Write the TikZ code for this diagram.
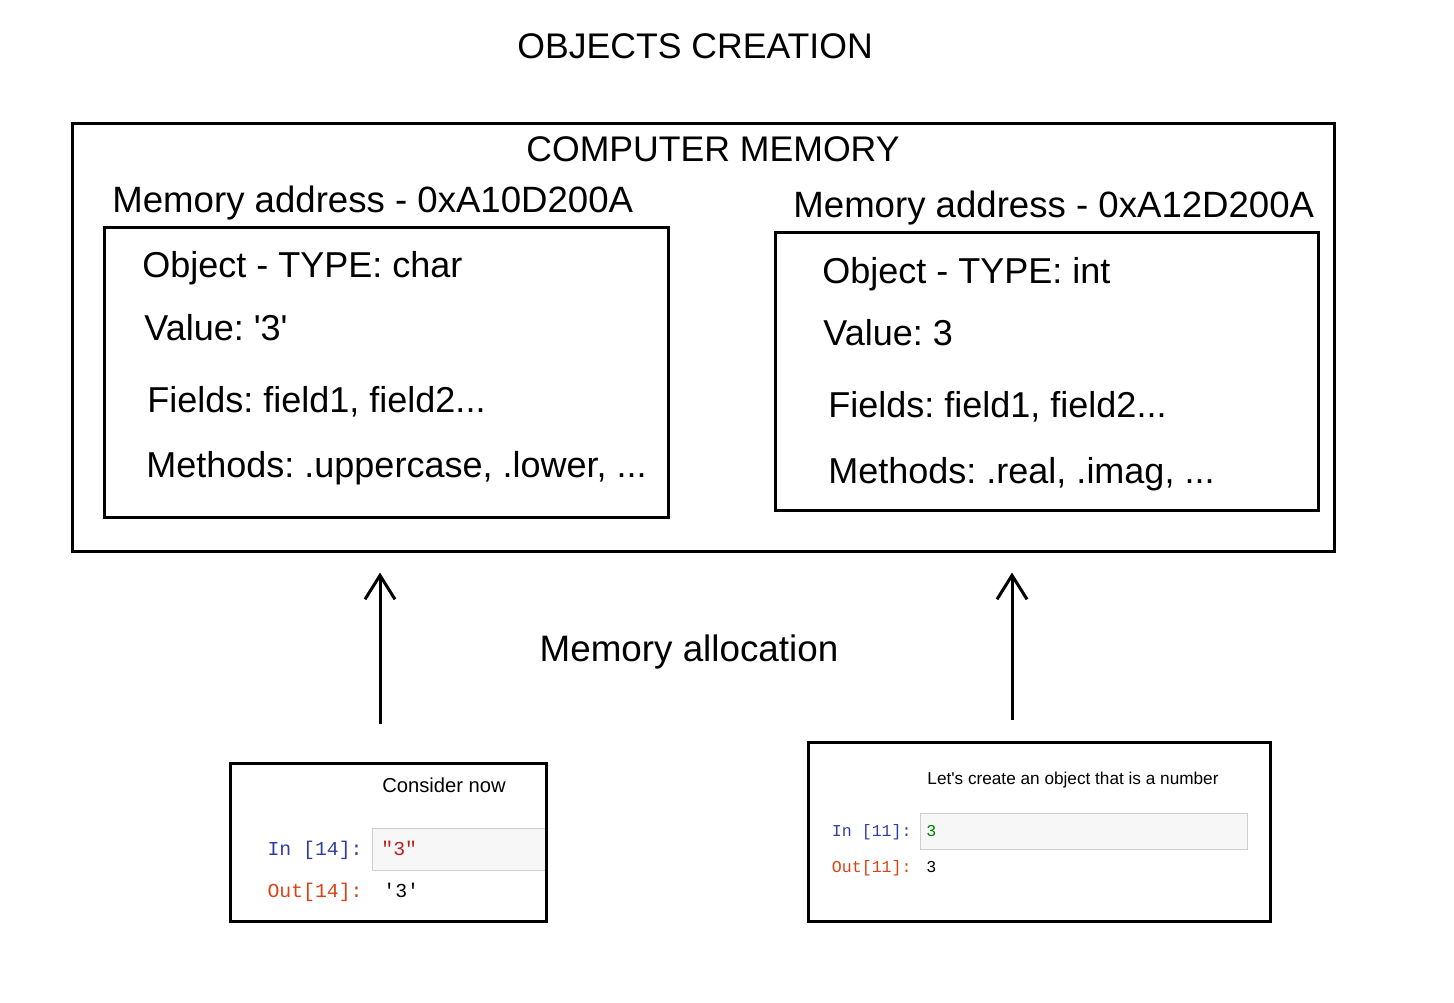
\documentclass[tikz,border=0pt]{standalone}
\usepackage{fontspec}
\setmainfont{Liberation Sans}
\setmonofont{Liberation Mono}
\usetikzlibrary{arrows.meta}
\definecolor{promptin}{HTML}{303F9F}
\definecolor{promptout}{HTML}{D84315}
\definecolor{strred}{HTML}{BA2121}
\definecolor{numgreen}{HTML}{008000}
\definecolor{cellgray}{HTML}{F7F7F7}
\definecolor{cellline}{HTML}{CFCFCF}
\frenchspacing

\begin{document}
\begin{tikzpicture}[x=0.5pt, y=-0.5pt,
		big/.style={font=\fontsize{17.8}{21}\selectfont, inner sep=0pt},
		line/.style={font=\fontsize{18}{21}\selectfont, inner sep=0pt, anchor=base west},
		address/.style={line, font=\fontsize{18.3}{21}\selectfont},
		frame/.style={draw, line width=1.5pt, inner sep=0pt},
		cell/.style={draw=cellline, fill=cellgray, line width=0.5pt, inner sep=0pt},
		note/.style={inner sep=0pt, anchor=base},
		prompt/.style={font=\ttfamily, inner sep=0pt, anchor=base east},
		alloc arrow/.style={-{Straight Barb[length=12pt, width=15pt]}, line width=1.5pt},
	]
	\useasboundingbox (0,0) rectangle (1454,1002);

	\node[big, anchor=base] (title) at (695,58) {OBJECTS CREATION};

	% memory with the two objects
	\node[frame, minimum width=631pt, minimum height=214pt] (memory) at (703,337) {};
	\node[big, anchor=base] (memlabel) at (713,161) {COMPUTER MEMORY};

	\node[address] (charaddr) at (112,212) {Memory address - 0xA10D200A};
	\node[frame, minimum width=282pt, minimum height=145pt] (charobj) at (386,372) {};
	\node[line] (chartype) at (142,277) {Object - TYPE: char};
	\node[line] (charvalue) at (144,340) {Value: \textquotesingle 3\textquotesingle};
	\node[line] (charfields) at (147,412) {Fields: field1, field2...};
	\node[line] (charmethods) at (146,477) {Methods: .uppercase, .lower, ...};

	\node[address] (intaddr) at (793,217) {Memory address - 0xA12D200A};
	\node[frame, minimum width=271.5pt, minimum height=139pt] (intobj) at (1046.5,371) {};
	\node[line] (inttype) at (822,283) {Object - TYPE: int};
	\node[line] (intvalue) at (823,345) {Value: 3};
	\node[line] (intfields) at (828,417) {Fields: field1, field2...};
	\node[line] (intmethods) at (828,483) {Methods: .real, .imag, ...};

	\node[big, anchor=base, font=\fontsize{18.4}{21}\selectfont] (alloc) at (689,661) {Memory allocation};

	% notebook cells
	\node[cell, minimum width=87.5pt, minimum height=21pt] (charcell) at (459.5,849) {};
	\node[frame, minimum width=158pt, minimum height=79pt] (charnb) at (388,842) {};
	\node[note, font=\fontsize{10.1}{12}\selectfont] (charnote) at (444,792) {Consider now};
	\node[prompt, font=\fontsize{9.9}{12}\ttfamily, text=promptin] (charin) at (363,855) {In [14]:};
	\node[prompt, font=\fontsize{9.9}{12}\ttfamily, text=promptout] (charout) at (363,897) {Out[14]:};
	\node[font=\fontsize{9.9}{12}\ttfamily, text=strred, inner sep=0pt, anchor=base west] (charsrc) at (381,855) {"3"};
	\node[font=\fontsize{9.9}{12}\ttfamily, inner sep=0pt, anchor=base west] (charres) at (383,897) {'3'};

	\node[cell, minimum width=163.5pt, minimum height=18pt] (intcell) at (1083.5,831) {};
	\node[frame, minimum width=231pt, minimum height=89.5pt] (intnb) at (1039,831.5) {};
	\node[note, font=\fontsize{8.6}{10}\selectfont] (intnote) at (1073,784) {Let\textquotesingle s create an object that is a number};
	\node[prompt, font=\fontsize{8.3}{10}\ttfamily, text=promptin] (intin) at (912,836) {In [11]:};
	\node[prompt, font=\fontsize{8.3}{10}\ttfamily, text=promptout] (intout) at (912,872) {Out[11]:};
	\node[font=\fontsize{8.3}{10}\ttfamily, text=numgreen, inner sep=0pt, anchor=base west] (intsrc) at (926,836) {3};
	\node[font=\fontsize{8.3}{10}\ttfamily, inner sep=0pt, anchor=base west] (intres) at (926,872) {3};

	\coordinate (charfoot) at (380,724);
	\coordinate (intfoot) at (1012,720);
	\draw[alloc arrow, shorten >=10pt] (charfoot) -- (charfoot |- memory.south);
	\draw[alloc arrow, shorten >=10pt] (intfoot) -- (intfoot |- memory.south);
\end{tikzpicture}
\end{document}
